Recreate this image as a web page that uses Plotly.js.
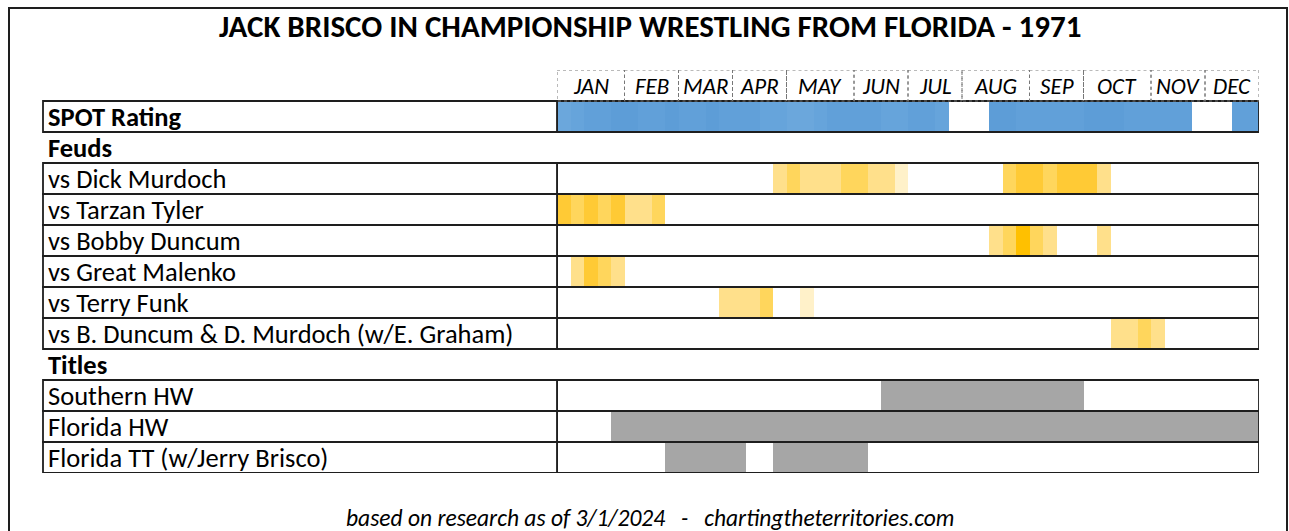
<!DOCTYPE html>
<html><head><meta charset="utf-8">
<script src="https://cdn.plot.ly/plotly-3.0.1.min.js"></script>
<style>html,body{margin:0;padding:0;background:#fff}#chart{width:1289px;height:531px}</style>
</head><body><div id="chart"></div>
<script>
const n = null;
const chartTitle = 'JACK BRISCO IN CHAMPIONSHIP WRESTLING FROM FLORIDA - 1971';
const footnote = 'based on research as of 3/1/2024   -   chartingtheterritories.com';
const months = ['JAN','FEB','MAR','APR','MAY','JUN','JUL','AUG','SEP','OCT','NOV','DEC'];
const monthWeeks = [5,4,4,4,5,4,4,5,4,5,4,4];
const spotLabel = 'SPOT Rating';
const feudHeader = 'Feuds';
const titleHeader = 'Titles';
const feudLabels = ['vs Dick Murdoch','vs Tarzan Tyler','vs Bobby Duncum','vs Great Malenko','vs Terry Funk','vs B. Duncum & D. Murdoch (w/E. Graham)'];
const titleLabels = ['Southern HW','Florida HW','Florida TT (w/Jerry Brisco)'];

// weekly values, 52 weeks
const spotRating = [4,5,6,6,7,7,6,6,7,6,6,7,6,6,6,5,5,4,4,5,6,6,6,6,5,5,6,6,5, n,n,n, 7,7,6,6,6,6,6,7,7,7,6,6,6,6,6, n,n,n, 6,6];
const vsMurdoch = [n,n,n,n,n,n,n,n,n,n,n,n,n,n,n,n, 2,3,2,2,2,3,3,2,2,1, n,n,n,n,n,n,n, 3,4,4,3,4,4,4,2, n,n,n,n,n,n,n,n,n,n,n];
const vsTyler = [4,3,4,3,4,2,2,3, n,n,n,n,n,n,n,n,n,n,n,n,n,n,n,n,n,n,n,n,n,n,n,n,n,n,n,n,n,n,n,n,n,n,n,n,n,n,n,n,n,n,n,n];
const vsDuncum = [n,n,n,n,n,n,n,n,n,n,n,n,n,n,n,n,n,n,n,n,n,n,n,n,n,n,n,n,n,n,n,n, 2,3,5,3,2, n,n,n, 2, n,n,n,n,n,n,n,n,n,n,n];
const vsMalenko = [n, 2,4,3,2, n,n,n,n,n,n,n,n,n,n,n,n,n,n,n,n,n,n,n,n,n,n,n,n,n,n,n,n,n,n,n,n,n,n,n,n,n,n,n,n,n,n,n,n,n,n,n];
const vsFunk = [n,n,n,n,n,n,n,n,n,n,n,n, 2,2,2,3, n,n, 1, n,n,n,n,n,n,n,n,n,n,n,n,n,n,n,n,n,n,n,n,n,n,n,n,n,n,n,n,n,n,n,n,n];
const vsDuncumMurdoch = [n,n,n,n,n,n,n,n,n,n,n,n,n,n,n,n,n,n,n,n,n,n,n,n,n,n,n,n,n,n,n,n,n,n,n,n,n,n,n,n,n, 2,2,3,2, n,n,n,n,n,n,n];
const southernHW = [n,n,n,n,n,n,n,n,n,n,n,n,n,n,n,n,n,n,n,n,n,n,n,n, 1,1,1,1,1,1,1,1,1,1,1,1,1,1,1, n,n,n,n,n,n,n,n,n,n,n,n,n];
const floridaHW = [n,n,n,n, 1,1,1,1,1,1,1,1,1,1,1,1,1,1,1,1,1,1,1,1,1,1,1,1,1,1,1,1,1,1,1,1,1,1,1,1,1,1,1,1,1,1,1,1,1,1,1,1];
const floridaTT = [n,n,n,n,n,n,n,n, 1,1,1,1,1,1, n,n, 1,1,1,1,1,1,1, n,n,n,n,n,n,n,n,n,n,n,n,n,n,n,n,n,n,n,n,n,n,n,n,n,n,n,n,n];

const W = 1289, H = 531;
const FONT = "Calibri, Carlito, 'Open Sans', sans-serif";
const weeks = spotRating.map((_, i) => i + 0.5);
// row layout: 0 months, 1 spot, 2 feuds header, 3-8 feuds, 9 titles header, 10-12 titles
const spotRow = 1, feudRow0 = 3, titleRow0 = 10;
const labelLeft = 43 / W;

const traces = [
  {type:'heatmap', x: weeks, y:[spotRow + 0.5], z:[spotRating], zmin:0, zmax:10,
   colorscale:[[0,'#7db4e3'],[1,'#4f93d2']], showscale:false, hoverinfo:'skip'},
  {type:'heatmap', x: weeks, y: feudLabels.map((_, i) => feudRow0 + i + 0.5),
   z:[vsMurdoch, vsTyler, vsDuncum, vsMalenko, vsFunk, vsDuncumMurdoch], zmin:1, zmax:5,
   colorscale:[[0,'#fff1c9'],[0.25,'#ffe08b'],[0.5,'#ffd65c'],[0.75,'#ffca35'],[1,'#ffc000']],
   showscale:false, hoverinfo:'skip'},
  {type:'heatmap', x: weeks, y: titleLabels.map((_, i) => titleRow0 + i + 0.5),
   z:[southernHW, floridaHW, floridaTT], zmin:0, zmax:1,
   colorscale:[[0,'#a6a6a6'],[1,'#a6a6a6']], showscale:false, hoverinfo:'skip'}
];

const shapes = [];
const annotations = [];
const line = {color:'#1e1e1e', width:1.8};
function boxRow(r){
  shapes.push({type:'rect', xref:'paper', yref:'y', x0:labelLeft, x1:557/W, y0:r, y1:r+1, line});
  shapes.push({type:'rect', xref:'x', yref:'y', x0:0, x1:52, y0:r, y1:r+1, line});
}
function label(r, text, bold){
  annotations.push({xref:'paper', yref:'y', x:46/W, y:r+0.53, xanchor:'left', yanchor:'middle',
    text: bold ? '<b>'+text+'</b>' : text, showarrow:false, font:{family:FONT, size:26.5, color:'#000'}});
}
boxRow(spotRow); label(spotRow, spotLabel, true);
label(2, feudHeader, true);
feudLabels.forEach((t, i) => { boxRow(feudRow0 + i); label(feudRow0 + i, t, false); });
label(9, titleHeader, true);
titleLabels.forEach((t, i) => { boxRow(titleRow0 + i); label(titleRow0 + i, t, false); });

let w0 = 0;
months.forEach((m, i) => {
  const w1 = w0 + monthWeeks[i];
  shapes.push({type:'rect', xref:'x', yref:'y', x0:w0, x1:w1, y0:0, y1:1,
    line:{color:'#777', width:1, dash:'dot'}});
  annotations.push({xref:'x', yref:'y', x:(w0 + w1)/2, y:0.52, yanchor:'middle', text:'<i>'+m+'</i>', showarrow:false,
    font:{family:FONT, size:23, color:'#000'}});
  w0 = w1;
});

// outer frame
shapes.push({type:'rect', xref:'paper', yref:'paper', x0:9/W, x1:1287/W, y0:-0.1, y1:1 - 8/H,
  line:{color:'#1e1e1e', width:2}});

annotations.push({xref:'paper', yref:'paper', x:650/W, y:1 - 26/H, yanchor:'middle', text:'<b>'+chartTitle+'</b>',
  showarrow:false, font:{family:FONT, size:31, color:'#000'}});
annotations.push({xref:'paper', yref:'paper', x:650/W, y:1 - 518/H, yanchor:'middle', text:'<i>'+footnote+'</i>',
  showarrow:false, font:{family:FONT, size:23.5, color:'#000'}});

const layout = {
  width: W, height: H, margin:{l:0, r:0, t:0, b:0}, paper_bgcolor:'#fff', plot_bgcolor:'rgba(0,0,0,0)',
  showlegend:false,
  xaxis:{domain:[557/W, 1259/W], range:[0,52], showgrid:false, zeroline:false, showticklabels:false, ticks:'', fixedrange:true},
  yaxis:{domain:[1 - 473/H, 1 - 70/H], range:[13,0], showgrid:false, zeroline:false, showticklabels:false, ticks:'', fixedrange:true},
  shapes, annotations
};
Plotly.newPlot('chart', traces, layout, {displayModeBar:false, staticPlot:true});
</script></body></html>
